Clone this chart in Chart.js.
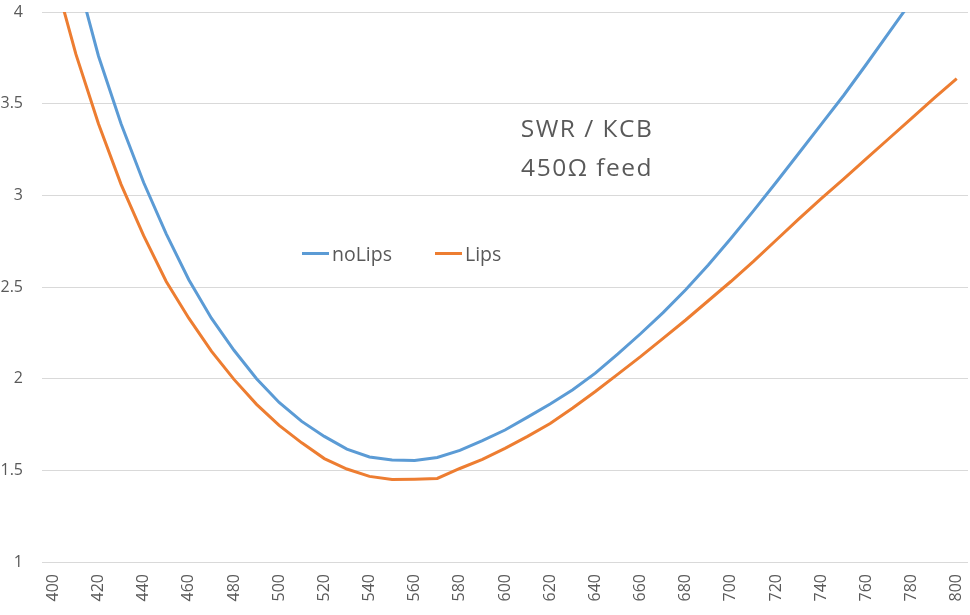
<!DOCTYPE html>
<html>
<head>
<meta charset="utf-8">
<script src="https://cdn.jsdelivr.net/npm/chart.js@4/dist/chart.umd.min.js"></script>
<style>
html,body{margin:0;padding:0;background:#fff}
#wrap{position:relative;width:970px;height:615px}
</style>
</head>
<body>
<div id="wrap"><canvas id="c" width="970" height="615"></canvas></div>
<script>
// Frequency categories (every 10; every other one is labelled)
const freqs = [400,410,420,430,440,450,460,470,480,490,500,
               510,520,530,540,550,560,570,580,590,600,
               610,620,630,640,650,660,670,680,690,700,
               710,720,730,740,750,760,770,780,790,800];

const seriesNames = ['noLips', 'Lips'];

const noLips = [4.75,4.22,3.76,3.39,3.07,2.79,2.54,2.33,2.155,2.0,1.87,
                1.767,1.685,1.616,1.573,1.556,1.554,1.57,1.609,1.662,1.72,
                1.79,1.862,1.94,2.03,2.135,2.245,2.36,2.485,2.62,2.765,
                2.915,3.07,3.228,3.387,3.546,3.715,3.888,4.06,4.23,4.40];

const lips = [4.22,3.77,3.39,3.06,2.78,2.53,2.33,2.15,1.996,1.86,1.745,
              1.65,1.564,1.507,1.467,1.45,1.452,1.456,1.51,1.56,1.62,
              1.685,1.755,1.84,1.93,2.025,2.12,2.22,2.32,2.425,2.53,
              2.64,2.755,2.87,2.982,3.09,3.20,3.31,3.42,3.53,3.637];

const yMin = 1, yMax = 4, yStep = 0.5;
const titleLines = ['SWR / КСВ', '450Ω feed'];

const TEXT = '#595959';
const GRID = '#d9d9d9';

const overlay = {
  id: 'overlay',
  afterDatasetsDraw(chart) {
    const ctx = chart.ctx;
    ctx.save();
    ctx.fillStyle = TEXT;
    ctx.textBaseline = 'alphabetic';
    // title
    ctx.font = '24.5px "Open Sans"';
    ctx.textAlign = 'center';
    try { ctx.letterSpacing = '1.5px'; } catch (e) {}
    ctx.fillText(titleLines[0], 587, 137);
    ctx.fillText(titleLines[1], 587, 176);
    try { ctx.letterSpacing = '0px'; } catch (e) {}
    // legend
    const pos = [{x: 302, tx: 332}, {x: 435, tx: 465}];
    ctx.font = '19.5px "Open Sans"';
    ctx.textAlign = 'left';
    chart.data.datasets.forEach((ds, i) => {
      const p = pos[i];
      ctx.strokeStyle = ds.borderColor;
      ctx.lineWidth = 3;
      ctx.beginPath();
      ctx.moveTo(p.x, 253.5);
      ctx.lineTo(p.x + 27, 253.5);
      ctx.stroke();
      ctx.fillStyle = TEXT;
      ctx.fillText(ds.label, p.tx, 260.5);
    });
    ctx.restore();
  }
};

new Chart(document.getElementById('c'), {
  type: 'line',
  data: {
    labels: freqs,
    datasets: [
      {label: seriesNames[0], data: noLips, borderColor: '#5B9BD5', backgroundColor: '#5B9BD5',
       borderWidth: 3, pointRadius: 0, tension: 0, clip: 0},
      {label: seriesNames[1], data: lips, borderColor: '#ED7D31', backgroundColor: '#ED7D31',
       borderWidth: 3, pointRadius: 0, tension: 0, clip: 0}
    ]
  },
  options: {
    responsive: false,
    animation: false,
    layout: {padding: {top: 12, right: 2, left: 0, bottom: 0}},
    plugins: {legend: {display: false}, tooltip: {enabled: false}, title: {display: false}},
    scales: {
      x: {
        type: 'category',
        offset: true,
        grid: {display: false, drawTicks: false},
        border: {display: false},
        ticks: {
          autoSkip: false,
          minRotation: 90,
          maxRotation: 90,
          padding: 12,
          color: TEXT,
          font: {family: '"Open Sans"', size: 16},
          callback: function(val, idx) { return idx % 2 === 0 ? String(freqs[idx]) : ''; }
        },
        afterFit: s => { s.height = 53; s.paddingLeft = 0; s.paddingRight = 0; }
      },
      y: {
        min: yMin, max: yMax,
        grid: {color: GRID, lineWidth: 1, drawTicks: false},
        border: {display: false},
        ticks: {
          stepSize: yStep,
          padding: 19,
          color: TEXT,
          font: {family: '"Open Sans"', size: 16},
          callback: v => String(Math.round(v * 10) / 10)
        },
        afterFit: s => { s.width = 42; s.paddingTop = 0; s.paddingBottom = 0; }
      }
    }
  },
  plugins: [overlay]
});
</script>
</body>
</html>
